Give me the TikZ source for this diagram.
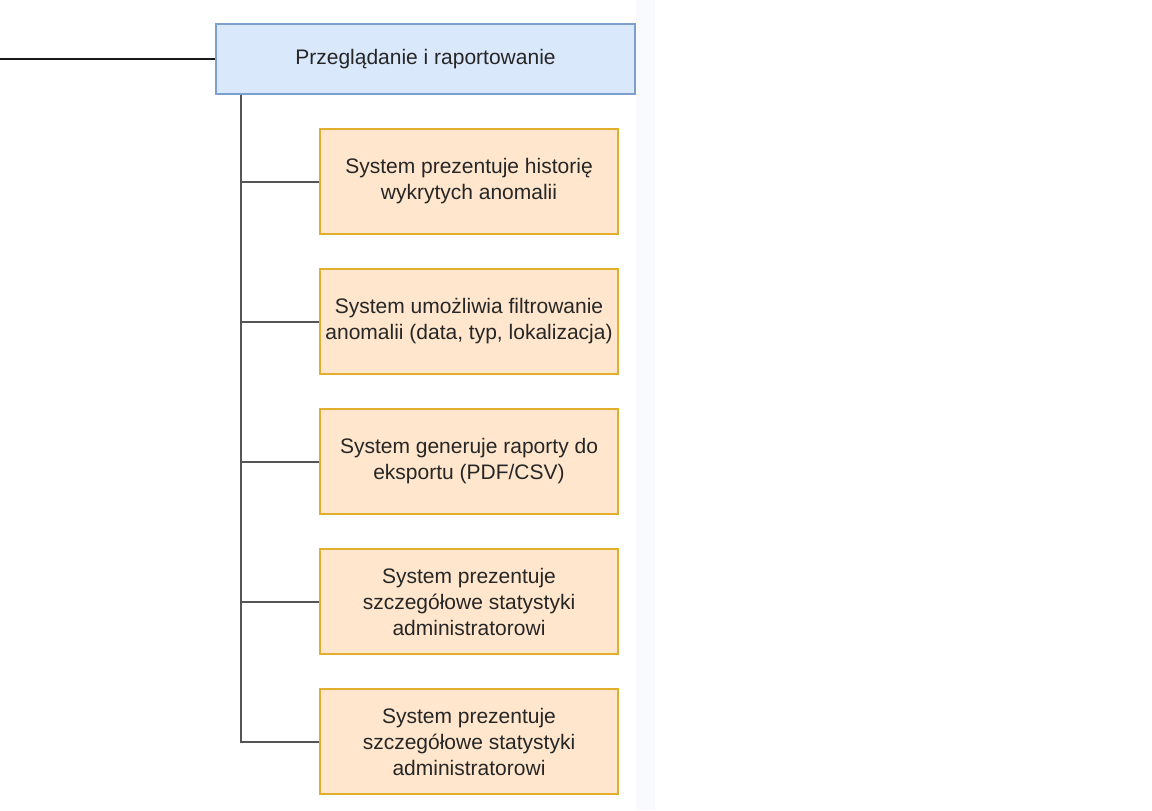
\documentclass[tikz,border=0pt]{standalone}
\usepackage{fontspec}
\setmainfont{Liberation Sans}
\definecolor{bfill}{HTML}{DAE8FC}
\definecolor{bdraw}{HTML}{7EA0CF}
\definecolor{ofill}{HTML}{FFE6CC}
\definecolor{odraw}{HTML}{E3AE2E}
\definecolor{txt}{HTML}{262626}
\definecolor{conngray}{HTML}{555555}
\definecolor{strip}{HTML}{F9FAFE}
\begin{document}
\begin{tikzpicture}[x=0.5pt,y=-0.5pt,
  every node/.style={font=\fontsize{10.5}{13}\selectfont, text=txt, align=center, inner sep=0pt},
  topbox/.style={draw=bdraw, fill=bfill, line width=0.75pt, minimum width=209.5pt, minimum height=35pt},
  reqbox/.style={draw=odraw, fill=ofill, line width=0.75pt, minimum width=149pt, minimum height=52.5pt},
  conn/.style={draw=conngray, line width=1pt},
  lconn/.style={draw=black!90, line width=1pt}]
\useasboundingbox (0,0) rectangle (1152,810);
\fill[white] (0,0) rectangle (1152,810);
\fill[strip] (636,0) rectangle (655,810);
\coordinate (lft) at (0,59);
\node[topbox] (top) at (425.5,59) {Przeglądanie i raportowanie};
\node[reqbox] (b1) at (469,181.5) {System prezentuje historię\\wykrytych anomalii};
\node[reqbox] (b2) at (469,321.5) {System umożliwia filtrowanie\\anomalii (data, typ, lokalizacja)};
\node[reqbox] (b3) at (469,461.5) {System generuje raporty do\\eksportu (PDF/CSV)};
\node[reqbox] (b4) at (469,601.5) {System prezentuje\\szczegółowe statystyki\\administratorowi};
\node[reqbox] (b5) at (469,741.5) {System prezentuje\\szczegółowe statystyki\\administratorowi};
\draw[lconn] (lft) -- (top.west);
\coordinate (trunk) at ([xshift=13pt]top.south west);
\draw[conn] (trunk) |- (b5.west);
\foreach \b in {b1,b2,b3,b4} {\draw[conn] (trunk) |- (\b.west);}
\end{tikzpicture}
\end{document}
